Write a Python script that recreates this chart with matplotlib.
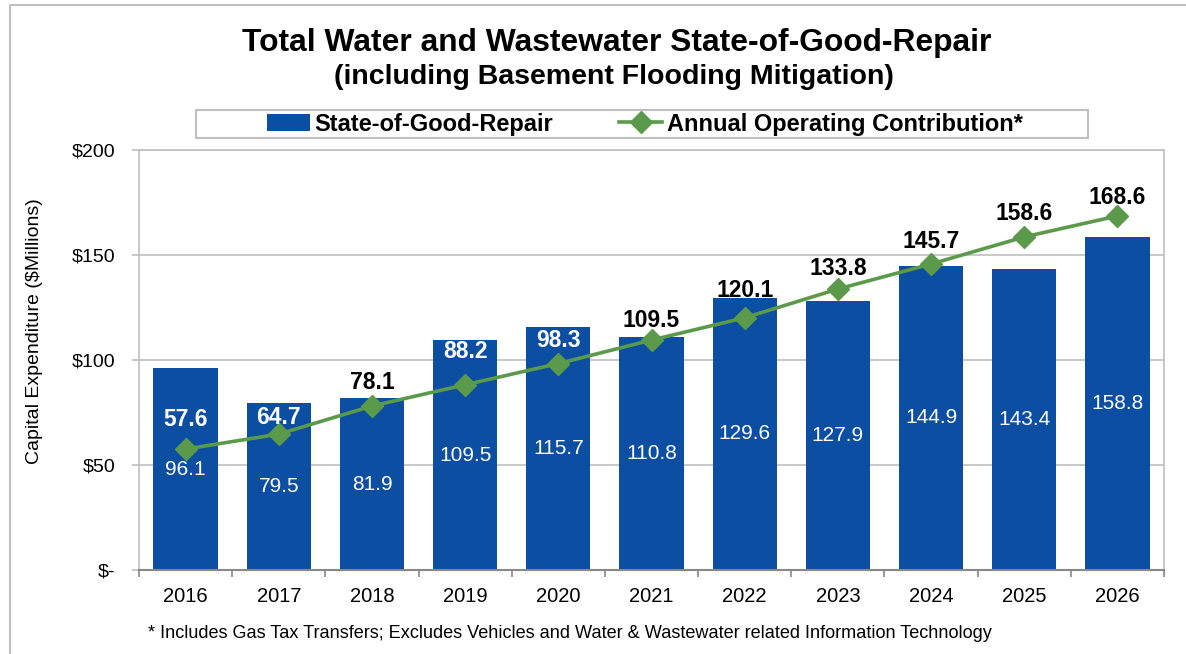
import numpy as np
import matplotlib.pyplot as plt
from matplotlib.patches import Rectangle

plt.rcParams['font.family'] = ['Liberation Sans', 'DejaVu Sans']

years = ['2016', '2017', '2018', '2019', '2020', '2021', '2022', '2023', '2024', '2025', '2026']
sogr = [96.1, 79.5, 81.9, 109.5, 115.7, 110.8, 129.6, 127.9, 144.9, 143.4, 158.8]
operating = [57.6, 64.7, 78.1, 88.2, 98.3, 109.5, 120.1, 133.8, 145.7, 158.6, 168.6]
y_ticks = [0, 50, 100, 150, 200]
y_tick_labels = ['$-', '$50', '$100', '$150', '$200']

# how far (px) each line label sits above its marker, as laid out in the original
label_lift = [30, 17, 23, 33, 23, 20, 27, 21, 23, 23, 18]

bar_color = '#0B4EA2'
line_color = '#5A9A4A'
grid_color = '#BFBFBF'

W, H = 1186, 654
fig = plt.figure(figsize=(W / 100, H / 100), dpi=100)
fig.patch.set_facecolor('white')

# outer chart frame (right/bottom run off the canvas)
fig.patches.append(Rectangle((10 / W, -0.1), 1.2, (H - 5) / H + 0.1,
                             transform=fig.transFigure, fill=False,
                             edgecolor=grid_color, linewidth=1.5))

ax = fig.add_axes([139 / W, (H - 570) / H, (1164 - 139) / W, (570 - 150) / H])
x = np.arange(len(years))

bars = ax.bar(x, sogr, width=0.69, color=bar_color, zorder=2, label='State-of-Good-Repair')
line, = ax.plot(x, operating, color=line_color, linewidth=2.6, marker='D', markersize=11,
                zorder=3, label='Annual Operating Contribution*')

# bar labels in the middle of each bar
for xi, v in zip(x, sogr):
    ax.text(xi, v / 2, f'{v:.1f}', ha='center', va='center', color='white',
            fontsize=15, zorder=4)

# line labels above the markers, white when they sit inside a bar
px_per_unit = 420 / 200
for xi, v, b, lift in zip(x, operating, sogr, label_lift):
    c = 'white' if v + lift / px_per_unit + 3 < b else 'black'
    ax.annotate(f'{v:.1f}', (xi, v), xytext=(0, lift * 0.72), textcoords='offset points',
                ha='center', va='center', fontsize=16.5, fontweight='bold',
                color=c, zorder=5)

ax.set_xlim(-0.5, len(years) - 0.5)
ax.set_ylim(0, 200)
ax.set_yticks(y_ticks)
ax.set_yticklabels(y_tick_labels)
ax.set_xticks(x)
ax.set_xticklabels(years)
ax.set_xticks(np.arange(-0.5, len(years)), minor=True)
ax.tick_params(axis='x', which='major', length=0, labelsize=14.5, pad=12)
ax.tick_params(axis='x', which='minor', length=5, color='#888888', width=1.2)
ax.tick_params(axis='y', length=5, color=grid_color, width=1.2, labelsize=14, pad=12)
ax.yaxis.grid(True, color=grid_color, linewidth=1.2, zorder=0)
ax.set_axisbelow(True)
for side in ['top', 'right', 'left']:
    ax.spines[side].set_color(grid_color)
    ax.spines[side].set_linewidth(1.2)
ax.spines['bottom'].set_color('#888888')
ax.spines['bottom'].set_linewidth(1.5)
ax.set_ylabel('Capital Expenditure ($Millions)', fontsize=14)
ax.yaxis.set_label_coords(-0.0937, 0.569)

fig.text(617 / W, 1 - 43 / H, 'Total Water and Wastewater State-of-Good-Repair',
         ha='center', va='center', fontsize=22.9, fontweight='bold')
fig.text(614 / W, 1 - 77 / H, '(including Basement Flooding Mitigation)',
         ha='center', va='center', fontsize=20.5, fontweight='bold')

# legend box drawn separately (it is wider than its contents)
fig.patches.append(Rectangle((196 / W, 1 - 138 / H), (1088 - 196) / W, 28 / H,
                             transform=fig.transFigure, fill=False,
                             edgecolor=grid_color, linewidth=1.5))
leg = fig.legend(handles=[bars, line], loc='center',
                 bbox_to_anchor=(645 / W, 1 - 124 / H),
                 ncol=2, frameon=False, handlelength=1.8, handletextpad=0.2,
                 columnspacing=2.8, borderpad=0.1,
                 prop={'weight': 'bold', 'size': 17})

fig.text(148 / W, 1 - 633 / H,
         '* Includes Gas Tax Transfers; Excludes Vehicles and Water & Wastewater related Information Technology',
         ha='left', va='center', fontsize=13.1)

fig.savefig('out.png', dpi=100)
